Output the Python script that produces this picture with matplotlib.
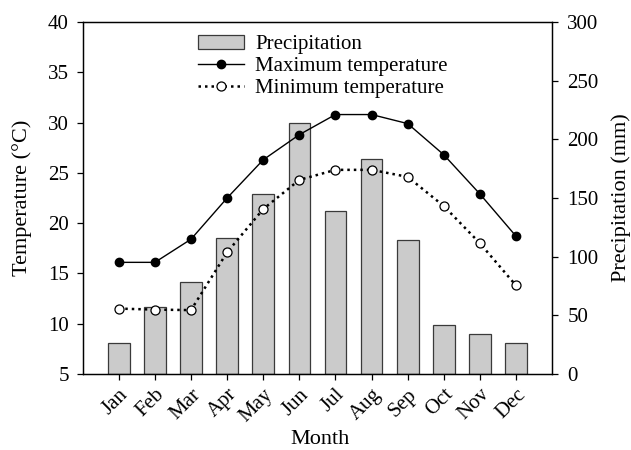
import numpy as np
import matplotlib.pyplot as plt
from matplotlib.patches import Patch
from matplotlib.lines import Line2D

plt.rcParams['font.family'] = ['Liberation Serif', 'DejaVu Serif']

months = ['Jan', 'Feb', 'Mar', 'Apr', 'May', 'Jun', 'Jul', 'Aug', 'Sep', 'Oct', 'Nov', 'Dec']
precip = [26, 57, 78, 116, 153, 214, 139, 183, 114, 42, 34, 26]
tmax = [16.1, 16.1, 18.4, 22.5, 26.3, 28.8, 30.8, 30.8, 29.9, 26.8, 22.9, 18.7]
tmin = [11.5, 11.4, 11.35, 17.1, 21.4, 24.3, 25.3, 25.3, 24.6, 21.7, 18.0, 13.8]


def main():
    x = np.arange(len(months))
    fig = plt.figure(figsize=(6.31, 4.5), dpi=100)
    ax = fig.add_axes([0.131, 0.169, 0.744, 0.782])
    ax2 = ax.twinx()

    # bars on the right axis, kept behind the temperature lines
    ax2.bar(x, precip, width=0.6, color='#cbcbcb', edgecolor='#3a3a3a', linewidth=0.9)
    ax.set_zorder(ax2.get_zorder() + 1)
    ax.patch.set_visible(False)

    ax.plot(x, tmax, color='black', linewidth=1.0, marker='o', markersize=6,
            markerfacecolor='black', markeredgecolor='black')
    ax.plot(x, tmin, color='black', linewidth=1.8, linestyle=(0, (1, 1.6)), marker='o',
            markersize=6.5, markerfacecolor='white', markeredgecolor='black', markeredgewidth=0.9)

    ax.set_xlim(-1, 12)
    ax.set_ylim(5, 40)
    ax.set_yticks(np.arange(5, 41, 5))
    ax2.set_ylim(0, 300)
    ax2.set_yticks(np.arange(0, 301, 50))

    ax.set_xticks(x)
    ax.set_xticklabels(months, rotation=45, ha='right', rotation_mode='anchor')
    ax.tick_params(axis='y', direction='out', length=4, labelsize=15, width=0.9, pad=6)
    ax.tick_params(axis='x', direction='out', length=4, labelsize=15, width=0.9, pad=4)
    ax2.tick_params(direction='out', length=4, labelsize=15, width=0.9, pad=7)

    ax.set_xlabel('Month', fontsize=16, va='center')
    ax.set_ylabel('Temperature (°C)', fontsize=16, va='center')
    ax2.set_ylabel('Precipitation (mm)', fontsize=16, va='center')
    ax.xaxis.set_label_coords(0.506, -0.186)
    ax.yaxis.set_label_coords(-0.129, 0.5)
    ax2.yaxis.set_label_coords(1.148, 0.5)

    for a in (ax, ax2):
        for s in a.spines.values():
            s.set_linewidth(0.9)

    handles = [Patch(facecolor='#cbcbcb', edgecolor='#3a3a3a', linewidth=0.9),
               Line2D([], [], color='black', linewidth=1.0, marker='o', markersize=6),
               Line2D([], [], color='black', linewidth=1.8, linestyle=(0, (1, 1.6)), marker='o',
                      markersize=6.5, markerfacecolor='white', markeredgewidth=0.9)]
    labels = ['Precipitation', 'Maximum temperature', 'Minimum temperature']
    ax.legend(handles, labels, loc='upper left', bbox_to_anchor=(0.245, 0.964), frameon=False,
              fontsize=15, handlelength=2.2, handletextpad=0.55, labelspacing=0.12,
              borderpad=0, borderaxespad=0)

    fig.savefig('out.png', dpi=100)


main()
